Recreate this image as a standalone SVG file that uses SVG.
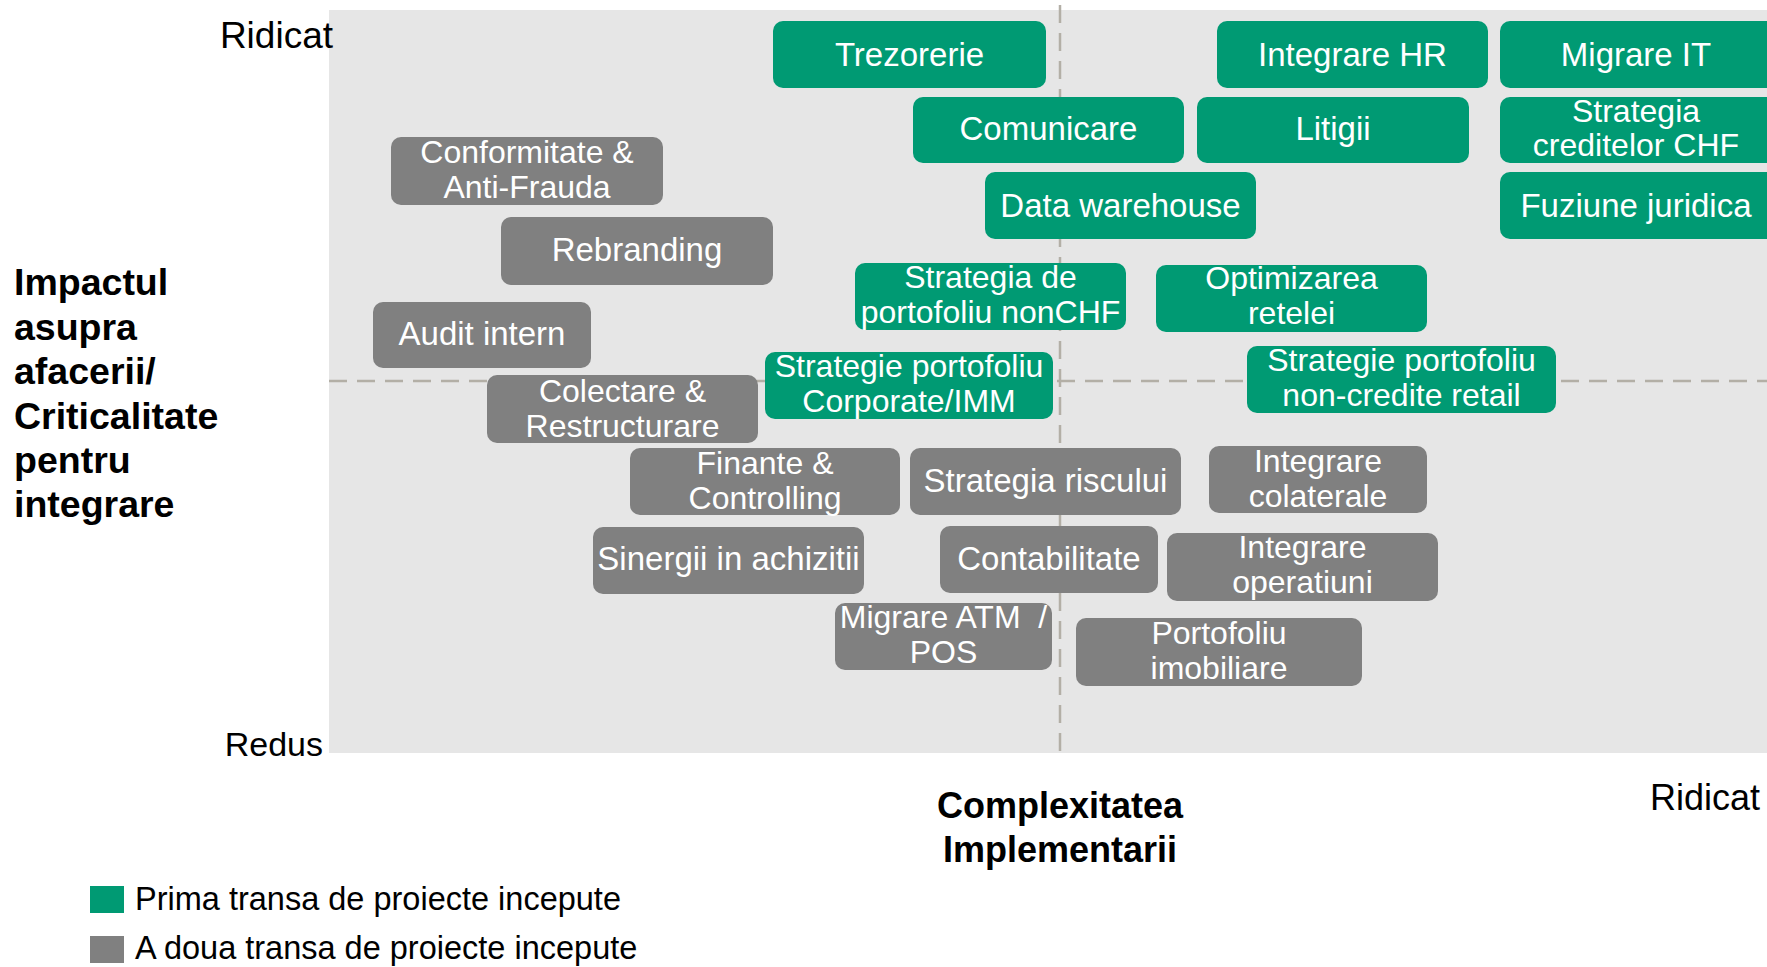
<svg xmlns="http://www.w3.org/2000/svg" width="1767" height="967" viewBox="0 0 1767 967">
<style>
.bg{fill:#e6e6e6}
.g rect{fill:#009a73}
.s rect{fill:#808080}
.n text{font-family:"Liberation Sans",Arial,sans-serif;font-size:33px;fill:#ffffff;text-anchor:middle}
.n text.t2{font-size:32px}
.dash{stroke:#b3afa6;stroke-width:2.5;stroke-dasharray:18 10;fill:none}
.lbl{font-family:"Liberation Sans",Arial,sans-serif;fill:#000000}
.b{font-weight:bold}
</style>
<rect class="bg" x="329" y="10" width="1438" height="743"/>
<g id="connectors">
<line class="dash" x1="329" y1="381" x2="1767" y2="381"/>
<line class="dash" x1="1060" y1="5" x2="1060" y2="752"/>
</g>
<g id="n-trezorerie" class="n g"><rect x="773" y="21" width="273" height="67" rx="10"/><text x="909.5" y="66">Trezorerie</text></g>
<g id="n-integrare-hr" class="n g"><rect x="1217" y="21" width="271" height="67" rx="10"/><text x="1352.5" y="66">Integrare HR</text></g>
<g id="n-migrare-it" class="n g"><rect x="1500" y="21" width="280" height="67" rx="10"/><text x="1636" y="66">Migrare IT</text></g>
<g id="n-comunicare" class="n g"><rect x="913" y="97" width="271" height="66" rx="10"/><text x="1048.5" y="140">Comunicare</text></g>
<g id="n-litigii" class="n g"><rect x="1197" y="97" width="272" height="66" rx="10"/><text x="1333" y="140">Litigii</text></g>
<g id="n-strategia-chf" class="n g"><rect x="1500" y="97" width="280" height="66" rx="10"/><text class="t2" x="1636" y="122">Strategia</text><text class="t2" x="1636" y="156">creditelor CHF</text></g>
<g id="n-data-warehouse" class="n g"><rect x="985" y="172" width="271" height="67" rx="10"/><text x="1120.5" y="217">Data warehouse</text></g>
<g id="n-fuziune" class="n g"><rect x="1500" y="172" width="280" height="67" rx="10"/><text x="1636" y="217">Fuziune juridica</text></g>
<g id="n-nonchf" class="n g"><rect x="855" y="263" width="271" height="67" rx="10"/><text class="t2" x="990.5" y="288">Strategia de</text><text class="t2" x="990.5" y="323">portofoliu nonCHF</text></g>
<g id="n-optimizarea" class="n g"><rect x="1156" y="265" width="271" height="67" rx="10"/><text class="t2" x="1291.5" y="289">Optimizarea</text><text class="t2" x="1291.5" y="324">retelei</text></g>
<g id="n-corporate" class="n g"><rect x="765" y="352" width="288" height="67" rx="10"/><text class="t2" x="909" y="377">Strategie portofoliu</text><text class="t2" x="909" y="412">Corporate/IMM</text></g>
<g id="n-noncredite" class="n g"><rect x="1247" y="346" width="309" height="67" rx="10"/><text class="t2" x="1401.5" y="371">Strategie portofoliu</text><text class="t2" x="1401.5" y="406">non-credite retail</text></g>
<g id="n-conformitate" class="n s"><rect x="391" y="137" width="272" height="68" rx="10"/><text class="t2" x="527" y="163">Conformitate &amp;</text><text class="t2" x="527" y="198">Anti-Frauda</text></g>
<g id="n-rebranding" class="n s"><rect x="501" y="217" width="272" height="68" rx="10"/><text x="637" y="261">Rebranding</text></g>
<g id="n-audit" class="n s"><rect x="373" y="302" width="218" height="66" rx="10"/><text x="482" y="345">Audit intern</text></g>
<g id="n-colectare" class="n s"><rect x="487" y="375" width="271" height="68" rx="10"/><text class="t2" x="622.5" y="402">Colectare &amp;</text><text class="t2" x="622.5" y="437">Restructurare</text></g>
<g id="n-finante" class="n s"><rect x="630" y="448" width="270" height="67" rx="10"/><text class="t2" x="765" y="474">Finante &amp;</text><text class="t2" x="765" y="509">Controlling</text></g>
<g id="n-riscului" class="n s"><rect x="910" y="448" width="271" height="67" rx="10"/><text x="1045.5" y="492">Strategia riscului</text></g>
<g id="n-colaterale" class="n s"><rect x="1209" y="446" width="218" height="67" rx="10"/><text class="t2" x="1318" y="472">Integrare</text><text class="t2" x="1318" y="507">colaterale</text></g>
<g id="n-sinergii" class="n s"><rect x="593" y="527" width="271" height="67" rx="10"/><text x="728.5" y="570">Sinergii in achizitii</text></g>
<g id="n-contabilitate" class="n s"><rect x="940" y="526" width="218" height="67" rx="10"/><text x="1049" y="570">Contabilitate</text></g>
<g id="n-operatiuni" class="n s"><rect x="1167" y="533" width="271" height="68" rx="10"/><text class="t2" x="1302.5" y="558">Integrare</text><text class="t2" x="1302.5" y="593">operatiuni</text></g>
<g id="n-atm" class="n s"><rect x="835" y="603" width="217" height="67" rx="10"/><text class="t2" x="943.5" y="628">Migrare ATM&#160;&#160;/</text><text class="t2" x="943.5" y="663">POS</text></g>
<g id="n-imobiliare" class="n s"><rect x="1076" y="618" width="286" height="68" rx="10"/><text class="t2" x="1219" y="644">Portofoliu</text><text class="t2" x="1219" y="679">imobiliare</text></g>
<g id="axis-labels">
<text class="lbl" x="333" y="48" font-size="37" text-anchor="end">Ridicat</text>
<text class="lbl" x="323" y="756" font-size="34" text-anchor="end">Redus</text>
<text class="lbl" x="1760" y="810" font-size="36" text-anchor="end">Ridicat</text>
<text class="lbl b" font-size="37.5" x="14">
<tspan x="14" y="295">Impactul</tspan>
<tspan x="14" y="340">asupra</tspan>
<tspan x="14" y="384">afacerii/</tspan>
<tspan x="14" y="429">Criticalitate</tspan>
<tspan x="14" y="473">pentru</tspan>
<tspan x="14" y="517">integrare</tspan>
</text>
<text class="lbl b" font-size="36" text-anchor="middle"><tspan x="1060" y="818">Complexitatea</tspan><tspan x="1060" y="862">Implementarii</tspan></text>
</g>
<g id="legend">
<rect x="90" y="886" width="34" height="27" fill="#009a73"/>
<text class="lbl" x="135" y="910" font-size="32.5">Prima transa de proiecte incepute</text>
<rect x="90" y="936" width="34" height="27" fill="#808080"/>
<text class="lbl" x="135" y="959" font-size="32.5">A doua transa de proiecte incepute</text>
</g>
</svg>
